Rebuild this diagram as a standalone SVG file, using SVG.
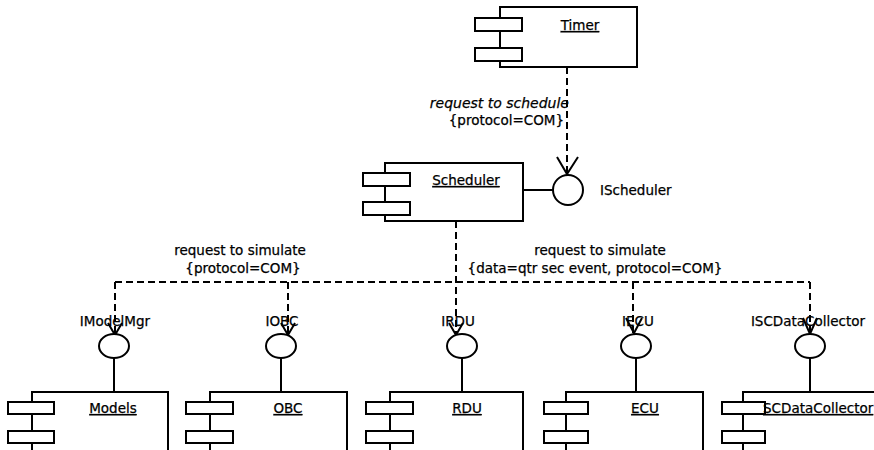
<svg xmlns="http://www.w3.org/2000/svg" width="874" height="450" viewBox="0 0 874 450">
  <style>
    .box { fill: #fff; stroke: #000; stroke-width: 2; }
    .tab { fill: #fff; stroke: #000; stroke-width: 2; }
    .iface { fill: #fff; stroke: #000; stroke-width: 2; }
    .solid { fill: none; stroke: #000; stroke-width: 2; }
    .dep { fill: none; stroke: #000; stroke-width: 2; stroke-dasharray: 7 4; }
    .head { fill: none; stroke: #000; stroke-width: 2; }
    text { font-family: "DejaVu Sans", Verdana, sans-serif; font-size: 13.5px; fill: #000; stroke: #000; stroke-width: 0.25; }
    .name { text-decoration: underline; text-anchor: middle; }
    .lbl { text-anchor: middle; }
    .note { font-style: italic; font-size: 14px; }
  </style>

  <rect width="874" height="450" fill="#fff"/>

  <!-- dependency connectors -->
  <g id="connectors">
    <!-- Timer to IScheduler -->
    <line class="dep" x1="567" y1="67" x2="567" y2="174"/>
    <path class="head" d="M557,157 L567,174 L578,157"/>
    <text class="note" x="569" y="108" text-anchor="end">request to schedule</text>
    <text x="564" y="125" text-anchor="end">{protocol=COM}</text>

    <!-- Scheduler to the simulated components -->
    <line class="dep" x1="456" y1="221" x2="456" y2="334"/>
    <line class="dep" x1="115" y1="282" x2="810" y2="282"/>
    <line class="dep" x1="115" y1="282" x2="115" y2="334"/>
    <line class="dep" x1="288" y1="282" x2="288" y2="334"/>
    <line class="dep" x1="633" y1="282" x2="633" y2="334"/>
    <line class="dep" x1="810" y1="282" x2="810" y2="334"/>
    <path class="head" d="M108,323 L115,335 L122,323"/>
    <path class="head" d="M281,323 L288,335 L295,323"/>
    <path class="head" d="M449,323 L456,335 L463,323"/>
    <path class="head" d="M626,318 L634,333 L642,318"/>
    <path class="head" d="M803,318 L810,334 L817,318"/>
    <text x="240" y="255" class="lbl">request to simulate</text>
    <text x="243" y="273" class="lbl">{protocol=COM}</text>
    <text x="600" y="255" class="lbl">request to simulate</text>
    <text x="595" y="273" class="lbl">{data=qtr sec event, protocol=COM}</text>
  </g>

  <!-- Timer component -->
  <g id="timer">
    <rect class="box" x="500" y="7" width="137" height="60"/>
    <rect class="tab" x="475" y="18" width="47" height="13"/>
    <rect class="tab" x="475" y="48" width="47" height="13"/>
    <text class="name" x="580" y="30">Timer</text>
  </g>

  <!-- Scheduler component with its provided interface -->
  <g id="scheduler">
    <rect class="box" x="385" y="163" width="138" height="58"/>
    <rect class="tab" x="363" y="173" width="47" height="13"/>
    <rect class="tab" x="363" y="202" width="47" height="13"/>
    <text class="name" x="466" y="185">Scheduler</text>
  </g>
  <g id="ischeduler">
    <line class="solid" x1="523" y1="190" x2="553" y2="190"/>
    <circle class="iface" cx="568" cy="190" r="15"/>
    <text x="600" y="195">IScheduler</text>
  </g>

  <!-- provided interfaces of the simulated components -->
  <g id="imodelmgr">
    <text class="lbl" x="115" y="326">IModelMgr</text>
    <ellipse class="iface" cx="114" cy="346" rx="15" ry="12"/>
    <line class="solid" x1="114" y1="358" x2="114" y2="392"/>
  </g>
  <g id="iobc">
    <text class="lbl" x="282" y="326">IOBC</text>
    <ellipse class="iface" cx="281" cy="346" rx="15" ry="12"/>
    <line class="solid" x1="281" y1="358" x2="281" y2="392"/>
  </g>
  <g id="irdu">
    <text class="lbl" x="458" y="326">IRDU</text>
    <ellipse class="iface" cx="462" cy="346" rx="15" ry="12"/>
    <line class="solid" x1="462" y1="358" x2="462" y2="392"/>
  </g>
  <g id="iecu">
    <text class="lbl" x="638" y="326">IECU</text>
    <ellipse class="iface" cx="636" cy="346" rx="15" ry="12"/>
    <line class="solid" x1="636" y1="358" x2="636" y2="392"/>
  </g>
  <g id="iscdatacollector">
    <text class="lbl" x="808" y="326">ISCDataCollector</text>
    <ellipse class="iface" cx="810" cy="346" rx="15" ry="12"/>
    <line class="solid" x1="810" y1="358" x2="810" y2="392"/>
  </g>

  <!-- simulated components -->
  <g id="models">
    <rect class="box" x="32" y="392" width="136" height="70"/>
    <rect class="tab" x="8" y="402" width="46" height="12"/>
    <rect class="tab" x="8" y="431" width="46" height="12"/>
    <text class="name" x="113" y="413">Models</text>
  </g>
  <g id="obc">
    <rect class="box" x="210" y="392" width="137" height="70"/>
    <rect class="tab" x="186" y="402" width="47" height="12"/>
    <rect class="tab" x="186" y="431" width="47" height="12"/>
    <text class="name" x="288" y="413">OBC</text>
  </g>
  <g id="rdu">
    <rect class="box" x="390" y="392" width="133" height="70"/>
    <rect class="tab" x="366" y="402" width="47" height="12"/>
    <rect class="tab" x="366" y="431" width="47" height="12"/>
    <text class="name" x="467" y="413">RDU</text>
  </g>
  <g id="ecu">
    <rect class="box" x="566" y="392" width="137" height="70"/>
    <rect class="tab" x="544" y="402" width="44" height="12"/>
    <rect class="tab" x="544" y="431" width="44" height="12"/>
    <text class="name" x="645" y="413">ECU</text>
  </g>
  <g id="scdatacollector">
    <rect class="box" x="743" y="392" width="150" height="70"/>
    <rect class="tab" x="722" y="402" width="43" height="12"/>
    <rect class="tab" x="722" y="431" width="43" height="12"/>
    <text x="763" y="413" text-decoration="underline">SCDataCollector</text>
  </g>
</svg>
